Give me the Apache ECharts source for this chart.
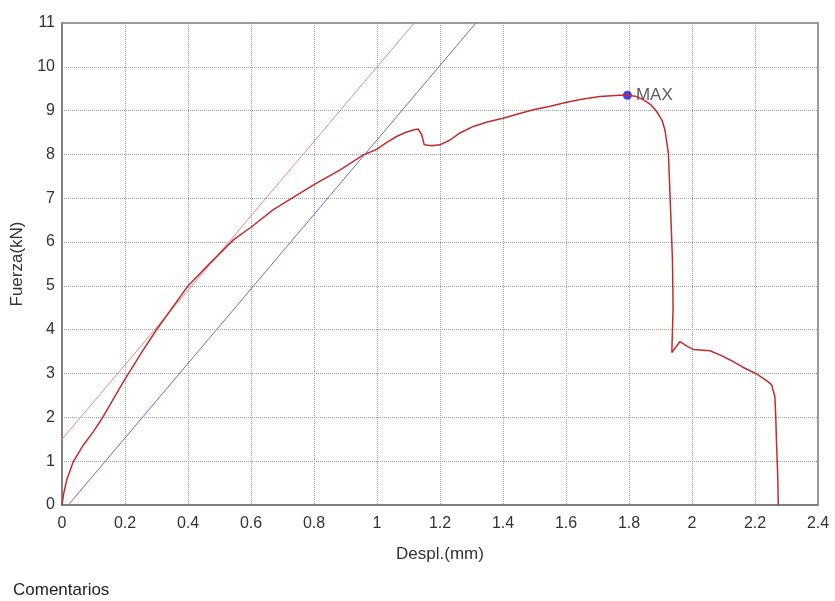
<!DOCTYPE html>
<html>
<head>
<meta charset="utf-8">
<script src="https://cdn.jsdelivr.net/npm/echarts@6/dist/echarts.min.js"></script>
<style>
  html, body { margin: 0; padding: 0; background: #ffffff; }
  #chart { width: 835px; height: 601px; }
</style>
</head>
<body>
<div id="chart"></div>
<script>
// Load–displacement curve of the test (Despl. in mm, Fuerza in kN)
const curveDespl = [
  0, 0.005, 0.015, 0.036, 0.068, 0.099, 0.131, 0.198, 0.258, 0.30,
  0.40, 0.47, 0.544, 0.602, 0.671, 0.729, 0.80, 0.883, 0.957, 1.0,
  1.03, 1.062, 1.09, 1.115, 1.131, 1.142, 1.150, 1.174, 1.2, 1.232,
  1.263, 1.306, 1.35, 1.403, 1.45, 1.496, 1.55, 1.602, 1.65, 1.708,
  1.77, 1.795, 1.82, 1.845, 1.87, 1.888, 1.905, 1.914, 1.925, 1.930,
  1.938, 1.940, 1.936, 1.962, 1.985, 2.004, 2.057, 2.09, 2.121, 2.16,
  2.205, 2.24, 2.253, 2.263, 2.266, 2.268, 2.272, 2.274
];
const curveFuerza = [
  0, 0.25, 0.57, 0.99, 1.37, 1.67, 2.02, 2.85, 3.54, 4.0,
  5.0, 5.52, 6.05, 6.35, 6.74, 7.0, 7.31, 7.65, 7.99, 8.12,
  8.27, 8.41, 8.50, 8.56, 8.58, 8.45, 8.22, 8.20, 8.22, 8.33,
  8.49, 8.64, 8.74, 8.83, 8.93, 9.02, 9.10, 9.19, 9.26, 9.32,
  9.35, 9.35, 9.33, 9.25, 9.13, 8.98, 8.78, 8.56, 8.03, 7.12,
  5.59, 4.5, 3.48, 3.73, 3.62, 3.55, 3.52, 3.42, 3.31, 3.15,
  2.99, 2.82, 2.74, 2.47, 2.0, 1.48, 0.7, 0
];

// Elastic slope line and its offset line (end points)
const tangentDespl = [0, 1.118];
const tangentFuerza = [1.5, 11];
const offsetDespl = [0.02, 1.314];
const offsetFuerza = [0, 11];

// Maximum load point
const maxDespl = 1.795;
const maxFuerza = 9.35;
const maxLabel = 'MAX';

// Axis settings
const xTicks = { min: 0, max: 2.4, interval: 0.2 };
const yTicks = { min: 0, max: 11, interval: 1 };
const xName = 'Despl.(mm)';
const yName = 'Fuerza(kN)';
const footerText = 'Comentarios';

const pairs = (xs, ys) => xs.map((x, i) => [x, ys[i]]);

const FONT = '"Liberation Sans", Arial, sans-serif';
const gridLine = { show: true, lineStyle: { color: '#a0a0a0', type: 'dotted', width: 1 } };
const frameLine = { show: true, lineStyle: { color: '#777777', width: 1.5 } };

const chart = echarts.init(document.getElementById('chart'), null, { renderer: 'canvas' });
chart.setOption({
  animation: false,
  backgroundColor: '#ffffff',
  textStyle: { fontFamily: FONT },
  grid: {
    left: 62, right: 17, top: 23, bottom: 96,
    show: true, borderColor: '#777777', borderWidth: 1.5, backgroundColor: '#ffffff'
  },
  xAxis: {
    type: 'value',
    min: xTicks.min, max: xTicks.max, interval: xTicks.interval,
    name: xName, nameLocation: 'middle', nameGap: 41,
    nameTextStyle: { fontSize: 17, color: '#333333', fontFamily: FONT },
    axisLine: frameLine,
    axisTick: { show: false },
    splitLine: gridLine,
    axisLabel: {
      margin: 11, fontSize: 16, color: '#333333', fontFamily: FONT,
      formatter: v => String(Math.round(v * 10) / 10)
    }
  },
  yAxis: {
    type: 'value',
    min: yTicks.min, max: yTicks.max, interval: yTicks.interval,
    name: yName, nameLocation: 'middle', nameGap: 32,
    nameTextStyle: { fontSize: 17, color: '#333333', fontFamily: FONT },
    axisLine: frameLine,
    axisTick: { show: false },
    splitLine: gridLine,
    axisLabel: { margin: 7, fontSize: 16, color: '#333333', fontFamily: FONT }
  },
  series: [
    {
      name: 'tangente', type: 'line', data: pairs(tangentDespl, tangentFuerza),
      showSymbol: false, silent: true,
      lineStyle: { color: '#e08a8a', width: 1 }
    },
    {
      name: 'offset', type: 'line', data: pairs(offsetDespl, offsetFuerza),
      showSymbol: false, silent: true,
      lineStyle: { color: '#6a6ad6', width: 1 }
    },
    {
      name: 'curva', type: 'line', data: pairs(curveDespl, curveFuerza),
      showSymbol: false, silent: true,
      lineStyle: { color: '#c42c2c', width: 1.5 }
    },
    {
      name: 'max', type: 'scatter', data: [[maxDespl, maxFuerza]],
      symbol: 'circle', symbolSize: 9, silent: true,
      itemStyle: { color: '#1414ee' },
      label: {
        show: true, position: 'right', distance: 4, formatter: maxLabel,
        fontSize: 17, color: '#333333', fontFamily: FONT
      }
    }
  ],
  graphic: [
    {
      type: 'text', left: 13, top: 582,
      style: { text: footerText, fontSize: 17, fill: '#222222', fontFamily: FONT }
    }
  ]
});
</script>
</body>
</html>
